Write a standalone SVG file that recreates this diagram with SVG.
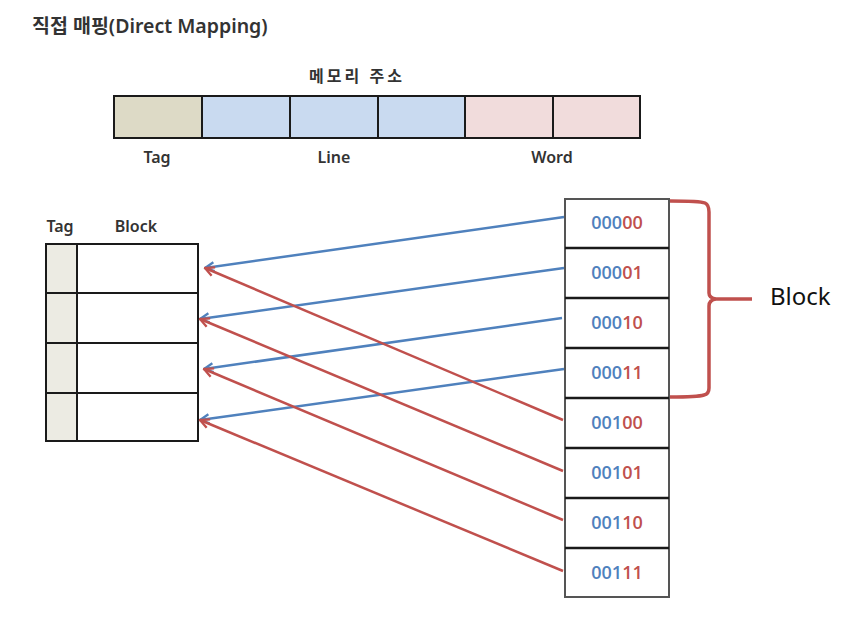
<svg xmlns="http://www.w3.org/2000/svg" width="848" height="621" viewBox="0 0 848 621">
<style>
  .t { font-family: "Noto Sans", "Open Sans", "Noto Sans CJK KR", sans-serif; fill: #333; }
  .lbl { font-family: "Noto Sans", "Noto Sans CJK KR", sans-serif; font-size: 16px; font-weight: 600; fill: #333; text-anchor: middle; }
  .cell { stroke: #1a1a1a; stroke-width: 2; }
  .mem { font-family: "Open Sans", "Noto Sans", sans-serif; font-size: 18px; font-weight: 600; text-anchor: middle; }
  .b { fill: #4f81bd; }
  .r { fill: #c0504d; }
  .ab { stroke: #4f81bd; stroke-width: 2.5; fill: none; marker-end: url(#ahb); }
  .ar { stroke: #c0504d; stroke-width: 2.5; fill: none; marker-end: url(#ahr); }
</style>
<defs>
  <marker id="ahb" viewBox="0 0 10 10" refX="9" refY="5" markerWidth="13" markerHeight="13" orient="auto" markerUnits="userSpaceOnUse">
    <path d="M2,1.5 L9,5 L2,8.5" fill="none" stroke="#4f81bd" stroke-width="1.8"/>
  </marker>
  <marker id="ahr" viewBox="0 0 10 10" refX="9" refY="5" markerWidth="13" markerHeight="13" orient="auto" markerUnits="userSpaceOnUse">
    <path d="M2,1.5 L9,5 L2,8.5" fill="none" stroke="#c0504d" stroke-width="1.8"/>
  </marker>
</defs>
<rect width="848" height="621" fill="#fff"/>
<text class="t" x="32" y="33" font-size="19.5" font-weight="600">직접 매핑(Direct Mapping)</text>

<g id="address">
  <text class="lbl" x="357" y="82" font-weight="700" font-size="16" letter-spacing="3">메모리 주소</text>
  <rect class="cell" x="114" y="96" width="88" height="42" fill="#dddac6"/>
  <rect class="cell" x="202" y="96" width="88" height="42" fill="#c9daf0"/>
  <rect class="cell" x="290" y="96" width="88" height="42" fill="#c9daf0"/>
  <rect class="cell" x="378" y="96" width="87" height="42" fill="#c9daf0"/>
  <rect class="cell" x="465" y="96" width="88" height="42" fill="#f1dcdc"/>
  <rect class="cell" x="553" y="96" width="87" height="42" fill="#f1dcdc"/>
  <text class="lbl" x="157" y="163">Tag</text>
  <text class="lbl" x="334" y="163">Line</text>
  <text class="lbl" x="552" y="163">Word</text>
</g>

<g id="cache">
  <text class="lbl" x="60" y="232">Tag</text>
  <text class="lbl" x="136" y="232">Block</text>
  <rect x="46" y="244" width="31" height="197" fill="#ecebe3"/>
  <rect class="cell" x="46" y="244" width="152" height="197" fill="none" stroke="#333"/>
  <line class="cell" x1="77" y1="244" x2="77" y2="441"/>
  <line class="cell" x1="46" y1="293" x2="198" y2="293"/>
  <line class="cell" x1="46" y1="343" x2="198" y2="343"/>
  <line class="cell" x1="46" y1="393" x2="198" y2="393"/>
</g>

<g id="memory">
  <rect x="565" y="199" width="104" height="398" fill="#fff" stroke="#555" stroke-width="2"/>
  <g stroke="#1a1a1a" stroke-width="2.5">
    <line x1="565" y1="248" x2="669" y2="248"/>
    <line x1="565" y1="298" x2="669" y2="298"/>
    <line x1="565" y1="348" x2="669" y2="348"/>
    <line x1="565" y1="398" x2="669" y2="398"/>
    <line x1="565" y1="448" x2="669" y2="448"/>
    <line x1="565" y1="498" x2="669" y2="498"/>
    <line x1="565" y1="548" x2="669" y2="548"/>
  </g>
  <text class="mem" x="617" y="229"><tspan class="b">000</tspan><tspan class="r">00</tspan></text>
  <text class="mem" x="617" y="279"><tspan class="b">000</tspan><tspan class="r">01</tspan></text>
  <text class="mem" x="617" y="329"><tspan class="b">000</tspan><tspan class="r">10</tspan></text>
  <text class="mem" x="617" y="379"><tspan class="b">000</tspan><tspan class="r">11</tspan></text>
  <text class="mem" x="617" y="429"><tspan class="b">001</tspan><tspan class="r">00</tspan></text>
  <text class="mem" x="617" y="479"><tspan class="b">001</tspan><tspan class="r">01</tspan></text>
  <text class="mem" x="617" y="529"><tspan class="b">001</tspan><tspan class="r">10</tspan></text>
  <text class="mem" x="617" y="579"><tspan class="b">001</tspan><tspan class="r">11</tspan></text>
</g>

<g id="brace">
  <path d="M670,201 Q700,201 705,203 Q709,205 709,212 L709,293 Q709,298 716,299 L752,299 M716,299 Q709,300 709,306 L709,388 Q709,394 704,395 Q698,397 670,397" fill="none" stroke="#c0504d" stroke-width="3.5"/>
  <text x="770" y="305" font-family="Noto Sans, Open Sans, sans-serif" font-size="24" fill="#111">Block</text>
</g>

<g id="connectors">
  <line class="ab" x1="564" y1="217" x2="205" y2="268"/>
  <line class="ab" x1="564" y1="268" x2="200" y2="319"/>
  <line class="ab" x1="562" y1="318" x2="204" y2="369"/>
  <line class="ab" x1="564" y1="369" x2="200" y2="420"/>
  <line class="ar" x1="563" y1="420" x2="205" y2="268"/>
  <line class="ar" x1="563" y1="471" x2="200" y2="319"/>
  <line class="ar" x1="563" y1="520" x2="204" y2="369"/>
  <line class="ar" x1="563" y1="571" x2="200" y2="420"/>
</g>
</svg>
